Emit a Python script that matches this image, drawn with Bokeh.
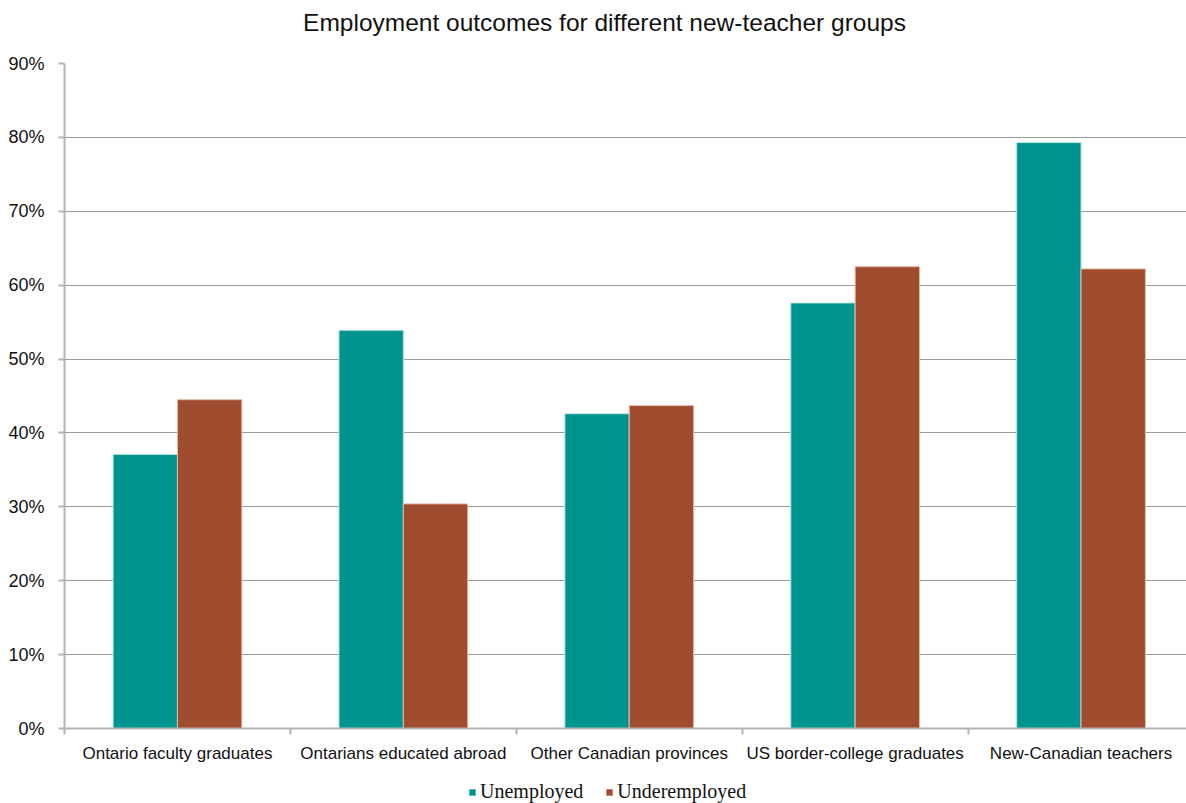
from bokeh.plotting import figure
from bokeh.layouts import column
from bokeh.models import (Range1d, FixedTicker, Legend, LegendItem,
                          ColumnDataSource, Label)
from bokeh.transform import dodge
from bokeh.embed import file_html
from bokeh.resources import INLINE

# Share of each new-teacher group that is unemployed / underemployed (%)
groups = [
    "Ontario faculty graduates",
    "Ontarians educated abroad",
    "Other Canadian provinces",
    "US border-college graduates",
    "New-Canadian teachers",
]
unemployed = [37.1, 53.9, 42.6, 57.6, 79.3]
underemployed = [44.5, 30.4, 43.7, 62.5, 62.2]
series_names = ["Unemployed", "Underemployed"]
y_ticks = [0, 10, 20, 30, 40, 50, 60, 70, 80, 90]
chart_title = "Employment outcomes for different new-teacher groups"

TEAL = "#00948F"
BRICK = "#A04C2F"
GRID = "#9c9c9c"
AXIS = "#b3b3b3"
FONT = "Liberation Sans"

# each group occupies one unit on the x axis, centred at i + 0.5
pos = [i + 0.5 for i in range(len(groups))]
src = ColumnDataSource(dict(pos=pos, unemployed=unemployed,
                            underemployed=underemployed))

W = 1186
TITLE_H = 51
LEFT, TOP, BOTTOM = 64, 12, 42
FRAME_W, FRAME_H = W - LEFT, 665
LEGEND_H = 803 - (TITLE_H + TOP + FRAME_H + BOTTOM)
GROUP_PX = 225.9
BAR_W = 0.285


def blank_strip(height):
    """A plain strip with no axes, used for the title and the legend."""
    f = figure(width=W, height=height, output_backend="svg",
               toolbar_location=None, x_axis_location=None,
               y_axis_location=None, min_border=0,
               x_range=Range1d(0, 1), y_range=Range1d(0, 1))
    f.grid.grid_line_color = None
    f.outline_line_color = None
    return f


# title strip (screen offsets are measured from the aligned plot frame)
head = blank_strip(TITLE_H)
head.add_layout(Label(x=540, y=TITLE_H - 22, x_units="screen",
                      y_units="screen", text=chart_title, text_font=FONT,
                      text_font_size="24.5px", text_color="#111111",
                      text_align="center", text_baseline="middle"))

p = figure(frame_width=FRAME_W, frame_height=FRAME_H,
           output_backend="svg", toolbar_location=None,
           x_range=Range1d(0, FRAME_W / GROUP_PX), y_range=Range1d(0, 90),
           min_border_left=LEFT, min_border_right=0, min_border_top=TOP,
           min_border_bottom=BOTTOM)

r1 = p.vbar(x=dodge("pos", -BAR_W / 2, range=p.x_range), top="unemployed",
            width=BAR_W, source=src, fill_color=TEAL,
            line_color="#bfe6e4", line_width=1)
r2 = p.vbar(x=dodge("pos", BAR_W / 2, range=p.x_range), top="underemployed",
            width=BAR_W, source=src, fill_color=BRICK,
            line_color="#e3b9a8", line_width=1)

# x axis: labels centred under each group, tick marks on group boundaries
p.xaxis.ticker = FixedTicker(ticks=pos,
                             minor_ticks=list(range(len(groups) + 1)))
p.xaxis.major_label_overrides = {x: g for x, g in zip(pos, groups)}
p.xaxis.major_tick_out = 0
p.xaxis.major_tick_in = 0
p.xaxis.minor_tick_out = 6
p.xaxis.minor_tick_in = 0
p.xaxis.minor_tick_line_color = AXIS
p.xaxis.minor_tick_line_width = 2
p.xaxis.major_label_standoff = 9
p.xaxis.major_label_text_font = FONT
p.xaxis.major_label_text_font_size = "17px"
p.xaxis.major_label_text_color = "#111111"

# y axis: percentages
p.yaxis.ticker = FixedTicker(ticks=y_ticks)
p.yaxis.major_label_overrides = {t: f"{t}%" for t in y_ticks}
p.yaxis.major_tick_out = 6
p.yaxis.major_tick_in = 0
p.yaxis.minor_tick_line_color = None
p.yaxis.major_tick_line_color = AXIS
p.yaxis.major_tick_line_width = 2
p.yaxis.major_label_standoff = 14
p.yaxis.major_label_text_font = FONT
p.yaxis.major_label_text_font_size = "18px"
p.yaxis.major_label_text_color = "#111111"

for ax in (p.xaxis, p.yaxis):
    ax.axis_line_color = AXIS
    ax.axis_line_width = 2

p.xgrid.grid_line_color = None
p.ygrid.grid_line_color = GRID
p.ygrid.grid_line_width = 1
p.outline_line_color = None
p.background_fill_color = "white"
p.border_fill_color = "white"

# legend strip underneath the chart; zero-height keys carry the colours
leg = blank_strip(LEGEND_H)
k1 = leg.vbar(x=[0], top=[0], width=1, fill_color=TEAL, line_color=None)
k2 = leg.vbar(x=[0], top=[0], width=1, fill_color=BRICK, line_color=None)

legend = Legend(items=[LegendItem(label=series_names[0], renderers=[k1]),
                       LegendItem(label=series_names[1], renderers=[k2])],
                orientation="horizontal", location=(404, 0))
legend.label_text_font = "Liberation Serif"
legend.label_text_font_size = "20px"
legend.label_text_color = "#111111"
legend.label_height = 18
legend.glyph_width = 8
legend.glyph_height = 8
legend.label_standoff = 4
legend.spacing = 22
legend.padding = 0
legend.margin = 0
legend.border_line_color = None
legend.background_fill_alpha = 0
leg.add_layout(legend, "center")

open("out.html", "w").write(file_html(column(head, p, leg, spacing=0), INLINE))
